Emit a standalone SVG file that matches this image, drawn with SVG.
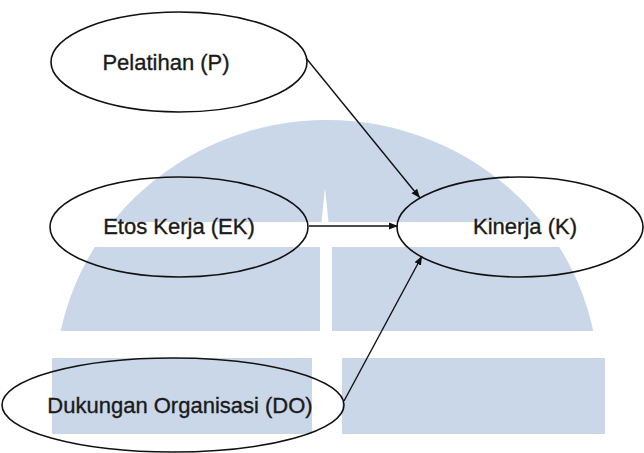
<svg xmlns="http://www.w3.org/2000/svg" width="644" height="453" viewBox="0 0 644 453">
<style>
.wm{fill:#cad7e8;stroke:none}
.node ellipse{fill:none;stroke:#111;stroke-width:1.6}
.node text{font-family:"Liberation Sans",Arial,sans-serif;font-size:22px;fill:#1a1a1a;stroke:#1a1a1a;stroke-width:0.35;text-anchor:middle}
.edge{stroke:#111;stroke-width:1.4;fill:none;marker-end:url(#arr)}
</style>
<defs>
<marker id="arr" viewBox="0 0 10 10" refX="10" refY="5" markerWidth="9" markerHeight="9" markerUnits="userSpaceOnUse" orient="auto">
<path d="M0,1 L10,5 L0,9 Z" fill="#111"/>
</marker>
<clipPath id="dome"><ellipse cx="327" cy="385" rx="272" ry="265"/></clipPath>
</defs>
<rect width="644" height="453" fill="#fff"/>
<g id="watermark">
<g clip-path="url(#dome)">
<rect class="wm" x="40" y="100" width="580" height="122"/>
<rect class="wm" x="40" y="247" width="280" height="84"/>
<rect class="wm" x="332" y="247" width="290" height="84"/>
</g>
<polygon points="325,188 328.5,222 321.5,222" fill="#fff"/>
<rect class="wm" x="52" y="358" width="260" height="76"/>
<rect class="wm" x="342" y="358" width="263" height="76"/>
</g>
<g id="connectors">
<line class="edge" x1="306" y1="58" x2="420" y2="198"/>
<line class="edge" x1="309" y1="226" x2="398" y2="226"/>
<line class="edge" x1="344" y1="401" x2="422" y2="256"/>
</g>
<g id="node-P" class="node">
<ellipse cx="179" cy="62" rx="128" ry="50"/>
<text x="166" y="70">Pelatihan (P)</text>
</g>
<g id="node-EK" class="node">
<ellipse cx="179" cy="227" rx="129" ry="50"/>
<text x="179" y="234">Etos Kerja (EK)</text>
</g>
<g id="node-K" class="node">
<ellipse cx="520" cy="227" rx="123" ry="50"/>
<text x="525" y="234">Kinerja (K)</text>
</g>
<g id="node-DO" class="node">
<ellipse cx="173" cy="405" rx="171" ry="47"/>
<text x="180" y="413">Dukungan Organisasi (DO)</text>
</g>
</svg>
